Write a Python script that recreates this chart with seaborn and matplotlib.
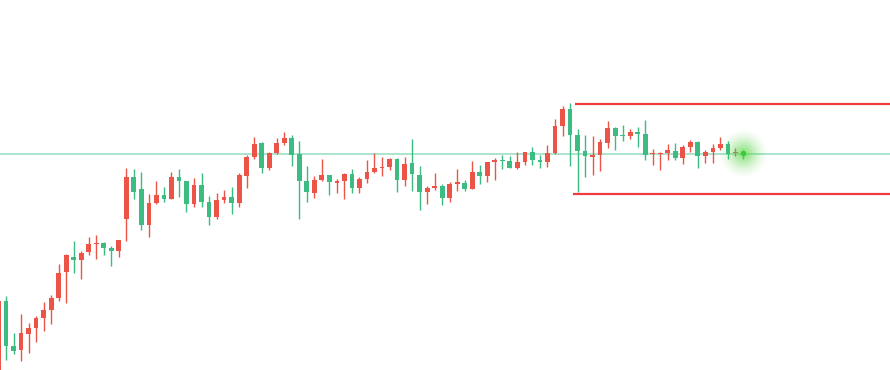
import numpy as np
import pandas as pd
import matplotlib
matplotlib.use('Agg')
import matplotlib.pyplot as plt
import seaborn as sns

# candle colours: 'R' = rising (red), 'G' = falling (green)
colors = list('RGGRRRRRRRGRRRGGRRGG'
              'RRGRGGRGGRRGRRRGRRRG'
              'GGRRGRRGRRRRRGRGGRRG'
              'RRGRGRRGGRRGGRRRGGGR'
              'RRGGRGGRRRGRRGRRRGRG')
body_top = [301, 301, 346, 333, 328, 318, 310, 298, 273, 255, 257, 253, 244, 243, 243, 248, 240, 177, 177, 189,
            203, 195, 195, 177, 177, 181, 185, 185, 202, 200, 197, 197, 175, 157, 144, 143, 153, 143, 138, 138,
            154, 181, 180, 175, 175, 181, 174, 174, 179, 172, 168, 167, 159, 159, 164, 163, 175, 188, 186, 186,
            184, 182, 183, 172, 172, 162, 160, 160, 161, 162, 152, 152, 160, 153, 126, 109, 109, 135, 151, 155,
            142, 128, 128, 135, 132, 132, 134, 153, 153, 150, 151, 147, 142, 142, 152, 148, 144, 144, 152, 152]
body_bot = [380, 346, 351, 350, 334, 328, 318, 310, 298, 272, 260, 260, 252, 244, 248, 251, 251, 219, 192, 225,
            225, 203, 199, 199, 181, 204, 204, 202, 217, 217, 200, 203, 203, 176, 157, 168, 168, 153, 143, 155,
            181, 192, 193, 180, 182, 183, 181, 188, 188, 179, 172, 168, 167, 180, 180, 174, 192, 192, 188, 198,
            198, 184, 189, 189, 176, 176, 162, 161, 168, 168, 162, 160, 162, 162, 153, 126, 135, 151, 156, 157,
            155, 143, 136, 136, 136, 134, 155, 154, 154, 153, 158, 158, 147, 156, 156, 152, 148, 154, 153, 153]
wick_top = [301, 296, 333, 314, 323, 316, 302, 295, 264, 254, 241, 251, 237, 235, 242, 246, 240, 168, 169, 172,
            194, 181, 187, 172, 169, 181, 178, 173, 196, 193, 190, 187, 173, 155, 137, 142, 152, 138, 132, 135,
            141, 166, 176, 159, 175, 179, 173, 169, 177, 160, 153, 157, 158, 158, 157, 139, 166, 186, 173, 184,
            182, 169, 180, 161, 165, 162, 158, 155, 156, 152, 152, 147, 155, 145, 119, 106, 103, 129, 135, 136,
            139, 121, 127, 125, 129, 127, 120, 149, 152, 144, 143, 145, 140, 141, 150, 144, 137, 141, 148, 150]
wick_bot = [385, 360, 354, 361, 353, 342, 331, 324, 301, 303, 273, 279, 255, 259, 255, 266, 257, 241, 199, 230,
            237, 204, 202, 199, 197, 212, 207, 207, 225, 219, 203, 214, 207, 188, 159, 173, 170, 154, 145, 166,
            219, 202, 198, 181, 195, 193, 199, 193, 193, 183, 173, 176, 170, 192, 186, 191, 210, 204, 190, 205,
            202, 191, 191, 189, 184, 182, 180, 169, 168, 169, 165, 165, 168, 167, 154, 136, 166, 192, 177, 175,
            171, 148, 150, 141, 139, 147, 160, 165, 170, 160, 160, 164, 152, 168, 163, 163, 150, 159, 156, 159]

# price levels (same scale as the candles: 400 - pixel row)
ref_level = 246
band_high = 296.5
band_low = 206.5
band_start_high = 76.7
band_start_low = 76.4


def to_price(v):
    return 400 - np.array(v, dtype=float)


df = pd.DataFrame({
    'color': colors,
    'top': to_price(body_top),
    'bot': to_price(body_bot),
    'high': to_price(wick_top),
    'low': to_price(wick_bot),
})
df['idx'] = np.arange(len(df))
df['open'] = np.where(df['color'] == 'R', df['bot'], df['top'])
df['close'] = np.where(df['color'] == 'R', df['top'], df['bot'])

RED = '#EB5446'
GREEN = '#3CBB83'
df['c'] = df['color'].map({'R': RED, 'G': GREEN})

sns.set_theme(style='white')
fig = plt.figure(figsize=(8.9, 3.7), dpi=100)
ax = fig.add_axes([0, 0, 1, 1])

# reference line
ax.axhline(ref_level, color='#93DDBE', lw=1.1, zorder=1)

# wicks and bodies
ax.vlines(df['idx'], df['low'], df['high'], colors=df['c'], lw=1.0, zorder=2)
heights = (df['top'] - df['bot']).clip(lower=1.2)
ax.bar(df['idx'], heights, bottom=df['bot'], width=0.63, color=df['c'], linewidth=0, zorder=3)

# range band
ax.hlines(band_high, band_start_high, 200, colors='#F03C3C', lw=1.6, zorder=2)
ax.hlines(band_low, band_start_low, 200, colors='#F03C3C', lw=1.6, zorder=2)

# glow on the last candle
last = df.iloc[-1]
for s, a in [(1100, 0.04), (850, 0.06), (620, 0.08), (430, 0.1), (280, 0.13), (160, 0.16), (70, 0.2)]:
    ax.scatter(last['idx'], 247, s=s, color='#55D845', alpha=a, linewidths=0, zorder=4)
ax.scatter(last['idx'], 247, s=16, color='#3CCB33', linewidths=0, zorder=5)

ax.set_xlim(0.2, 118.55)
ax.set_ylim(30, 400)
ax.axis('off')

fig.savefig('out.png', dpi=100, facecolor='white')
